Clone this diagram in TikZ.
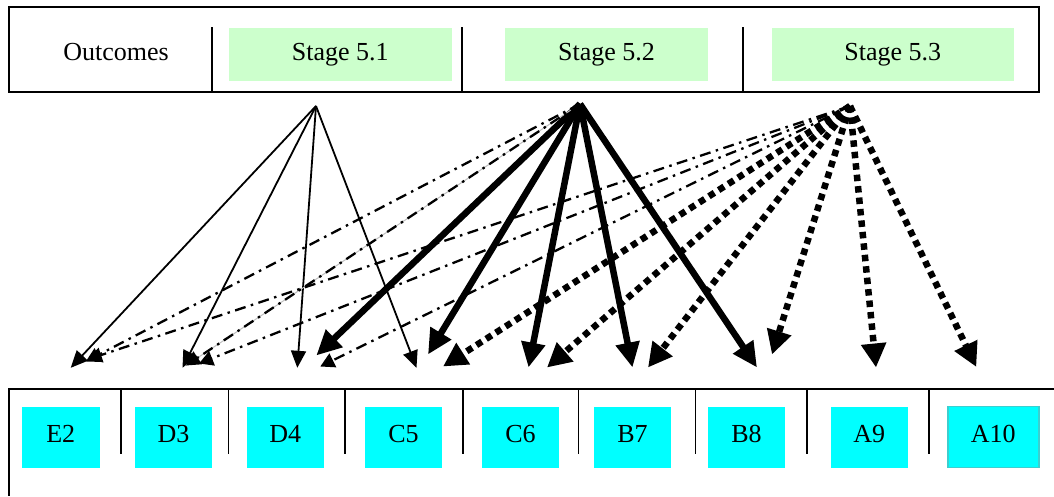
\documentclass[tikz,border=0pt]{standalone}
\usepackage{fontspec}
\setmainfont{Liberation Serif}
\usetikzlibrary{arrows.meta}
\definecolor{stagegreen}{HTML}{CCFFCC}
\definecolor{outcyan}{HTML}{00FFFF}
\definecolor{tealedge}{HTML}{3CCFCF}

\begin{document}
\begin{tikzpicture}[x=1pt,y=-1pt,
	font=\fontsize{26}{30}\selectfont,
	frame/.style={line width=2pt},
	divider/.style={line width=1.5pt},
	stagebox/.style={fill=stagegreen, minimum width=#1, minimum height=53pt, inner sep=0pt, text height=17pt, text depth=6pt},
	outbox/.style={fill=outcyan, minimum width=77.5pt, minimum height=61pt, inner sep=0pt, text height=17pt, text depth=6pt},
	thinarrow/.style={line width=1.8pt, -{Triangle[length=17pt,width=15pt]}},
	thickarrow/.style={line width=6.5pt, -{Triangle[length=25pt,width=23pt]}},
	dotarrow/.style={line width=6.5pt, dash pattern=on 6.5pt off 5pt, -{Triangle[length=24pt,width=24pt]}},
	dasharrow/.style={line width=2.3pt, dash pattern=on 11pt off 5.5pt on 2.5pt off 5.5pt, -{Triangle[length=14pt,width=15pt]}}]
	\useasboundingbox (0,0) rectangle (1054,496);
	
	% top row
	\draw[frame] (9.4,6.7) rectangle (1039,91.7);
	\foreach \x in {212,462,743}
		\draw[divider] (\x,27) -- (\x,91.7);
	\node (outc) at (116,54.5) [text height=17pt, text depth=6pt] {Outcomes};
	\node[stagebox=223.5pt] (s51) at (340.25,54.5) {Stage 5.1};
	\node[stagebox=203pt] (s52) at (606.5,54.5) {Stage 5.2};
	\node[stagebox=242.5pt] (s53) at (892.75,54.5) {Stage 5.3};
	
	% bottom row
	\draw[frame] (1054,389) -- (9.4,389) -- (9.4,496);
	\foreach \x in {121,228.5,345,463,578.6,695.6,807,928.8}
		\draw[divider] (\x,389) -- (\x,454);
	\foreach \n/\x in {E2/60.75,D3/173.5,D4/285.3,C5/403.5,C6/520.5,B7/632.5,B8/746.5,A9/869.3}
		\node[outbox] (\n) at (\x,437.2) {\n};
	\node[outbox, minimum width=91pt, draw=tealedge, line width=1.5pt] (A10) at (993.3,437.2) {A10};
	
	% where the arrows leave the stages
	\coordinate (o51) at (316,106);
	\coordinate (o52) at (580,104);
	\coordinate (o53) at (850,106);
	
	% stage 5.1
	\foreach \t/\dx in {E2/10,D3/9,D4/12,C5/13}
		\draw[thinarrow] (o51) -- ([xshift=\dx pt,yshift=38.7pt]\t.north);
	
	% stage 5.2
	\foreach \t/\dx/\dy in {D4/31/51,C5/24.5/52,C6/8/39,B7/0/39,B8/10.5/39}
		\draw[thickarrow] (o52) -- ([xshift=\dx pt,yshift=\dy pt]\t.north);
	\draw[dasharrow] (o52) -- ([xshift=25pt,yshift=45pt]E2.north);
	\draw[dasharrow, preaction={draw=black!25, solid, line width=1pt, -}] (o52) -- ([xshift=12.5pt,yshift=41pt]D3.north);
	
	% stage 5.3
	\foreach \t/\dx/\dy in {E2/27/47,D3/25.5/43,D4/35/40}
		\draw[dasharrow] (o53) -- ([xshift=\dx pt,yshift=\dy pt]\t.north);
	\foreach \t/\dx/\dy in {C5/39.5/40,C6/26.5/39,B7/15.5/39,B8/25.5/52,A9/6.7/39,A10/-17/39}
		\draw[dotarrow] (o53) -- ([xshift=\dx pt,yshift=\dy pt]\t.north);
\end{tikzpicture}
\end{document}
